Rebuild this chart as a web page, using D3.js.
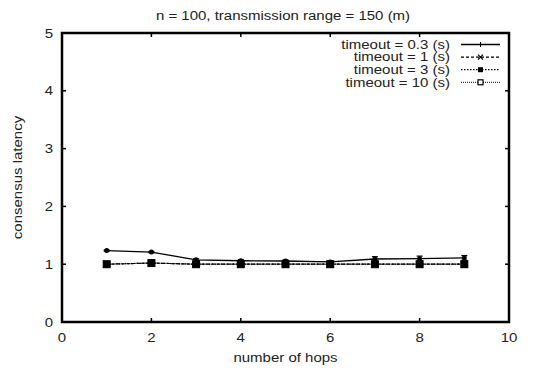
<!DOCTYPE html>
<html><head><meta charset="utf-8">
<script src="https://cdn.jsdelivr.net/npm/d3@7"></script>
<style>body{margin:0;background:#fff}svg{display:block}text{font-family:"Liberation Sans",Arial,sans-serif;fill:#222}</style>
</head><body><svg id="c" width="534" height="370"></svg>
<script>
const hops = [1,2,3,4,5,6,7,8,9];
const s03 = [1.235,1.21,1.075,1.06,1.055,1.04,1.09,1.095,1.11];
const s03err = [0.01,0.01,0.02,0.02,0.02,0.01,0.04,0.045,0.04];
const s1 = [1.0,1.02,1.0,1.0,1.0,1.0,1.0,1.0,1.0];
const s3 = [1.0,1.02,1.0,1.0,1.0,1.0,1.0,1.0,1.0];
const s10 = [1.0,1.02,1.0,1.0,1.0,1.0,1.0,1.0,1.0];
const seriesNames = ["timeout = 0.3 (s)","timeout = 1 (s)","timeout = 3 (s)","timeout = 10 (s)"];
const xTicks = [0,2,4,6,8,10];
const yTicks = [0,1,2,3,4,5];

const svg = d3.select("#c");
const L=62,R=509,T=33,B=322;
const x = d3.scaleLinear().domain([0,10]).range([L,R]);
const y = d3.scaleLinear().domain([0,5]).range([B,T]);
const FS = 12, SX = 1.25;
function txt(px,py,anchor,s,rot){
  return svg.append("text")
    .attr("transform",`translate(${px},${py})${rot?` rotate(${rot})`:""} scale(${SX},1)`)
    .attr("text-anchor",anchor).attr("font-size",FS).text(s);
}

txt(283,19.5,"middle","n = 100, transmission range = 150 (m)");

// ticks
const g = svg.append("g").attr("stroke","#000").attr("stroke-width",1.5);
xTicks.forEach(t=>{
  g.append("line").attr("x1",x(t)).attr("x2",x(t)).attr("y1",B).attr("y2",B-4);
  g.append("line").attr("x1",x(t)).attr("x2",x(t)).attr("y1",T).attr("y2",T+4);
});
yTicks.forEach(t=>{
  g.append("line").attr("x1",L).attr("x2",L+4).attr("y1",y(t)).attr("y2",y(t));
  g.append("line").attr("x1",R).attr("x2",R-4).attr("y1",y(t)).attr("y2",y(t));
});
xTicks.forEach(d=>txt(x(d),B+20,"middle",d));
yTicks.forEach(d=>txt(L-9,y(d)+4.5,"end",d));
txt((L+R)/2,B+40,"middle","number of hops");
txt(22,(T+B)/2,"middle","consensus latency",-90);

const line = d3.line().x(d=>x(d[0])).y(d=>y(d[1]));
const zip = a=>hops.map((h,i)=>[h,a[i]]);
const styles = [
  {data:s03,dash:null,w:1.3},
  {data:s1,dash:"3,2",w:1.2},
  {data:s3,dash:"1.5,1.5",w:1.2},
  {data:s10,dash:"1,1",w:1}
];
// error bars for 0.3
const eg = svg.append("g").attr("stroke","#000").attr("stroke-width",1.2);
hops.forEach((h,i)=>{
  const e=s03err[i];
  eg.append("line").attr("x1",x(h)).attr("x2",x(h)).attr("y1",y(s03[i]-e)).attr("y2",y(s03[i]+e));
  eg.append("line").attr("x1",x(h)-3).attr("x2",x(h)+3).attr("y1",y(s03[i]+e)).attr("y2",y(s03[i]+e));
  eg.append("line").attr("x1",x(h)-3).attr("x2",x(h)+3).attr("y1",y(s03[i]-e)).attr("y2",y(s03[i]-e));
});
styles.forEach(s=>{
  svg.append("path").datum(zip(s.data)).attr("d",line).attr("fill","none").attr("stroke","#000").attr("stroke-width",s.w).attr("stroke-dasharray",s.dash);
});
// markers
svg.selectAll(".m0").data(zip(s03)).enter().append("circle").attr("cx",d=>x(d[0])).attr("cy",d=>y(d[1])).attr("r",2.5).attr("fill","#000");
svg.selectAll(".m1").data(zip(s1)).enter().append("path").attr("transform",d=>`translate(${x(d[0])},${y(d[1])})`).attr("d","M-3,-3L3,3M-3,3L3,-3").attr("stroke","#000").attr("stroke-width",1.5);
svg.selectAll(".m2").data(zip(s3)).enter().append("rect").attr("x",d=>x(d[0])-3).attr("y",d=>y(d[1])-3).attr("width",6).attr("height",6).attr("fill","#000");
svg.selectAll(".m3").data(zip(s10)).enter().append("rect").attr("x",d=>x(d[0])-3.5).attr("y",d=>y(d[1])-3.5).attr("width",7).attr("height",7).attr("fill","#000").attr("stroke","#000").attr("stroke-width",1);

// legend
const ly=[44.5,57.1,69.7,82.3];
seriesNames.forEach((n,i)=>{
  txt(450,ly[i]+4.3,"end",n);
  svg.append("line").attr("x1",461).attr("x2",500).attr("y1",ly[i]).attr("y2",ly[i]).attr("stroke","#000").attr("stroke-width",styles[i].w).attr("stroke-dasharray",styles[i].dash);
  const cx=480.5, cy=ly[i];
  if(i===0) svg.append("path").attr("d",`M${cx-2.5},${cy}L${cx+2.5},${cy}M${cx},${cy-2.5}L${cx},${cy+2.5}`).attr("stroke","#000").attr("stroke-width",1);
  if(i===1) svg.append("path").attr("d",`M${cx-2.5},${cy-2.5}L${cx+2.5},${cy+2.5}M${cx-2.5},${cy+2.5}L${cx+2.5},${cy-2.5}`).attr("stroke","#000").attr("stroke-width",1.2);
  if(i===2) svg.append("rect").attr("x",cx-2.5).attr("y",cy-2.5).attr("width",5).attr("height",5).attr("fill","#000");
  if(i===3) svg.append("rect").attr("x",cx-2.5).attr("y",cy-2.5).attr("width",5).attr("height",5).attr("fill","#fff").attr("stroke","#000").attr("stroke-width",1.2);
});

// frame
svg.append("rect").attr("x",L).attr("y",T).attr("width",R-L).attr("height",B-T).attr("fill","none").attr("stroke","#000").attr("stroke-width",2.5);
</script></body></html>
